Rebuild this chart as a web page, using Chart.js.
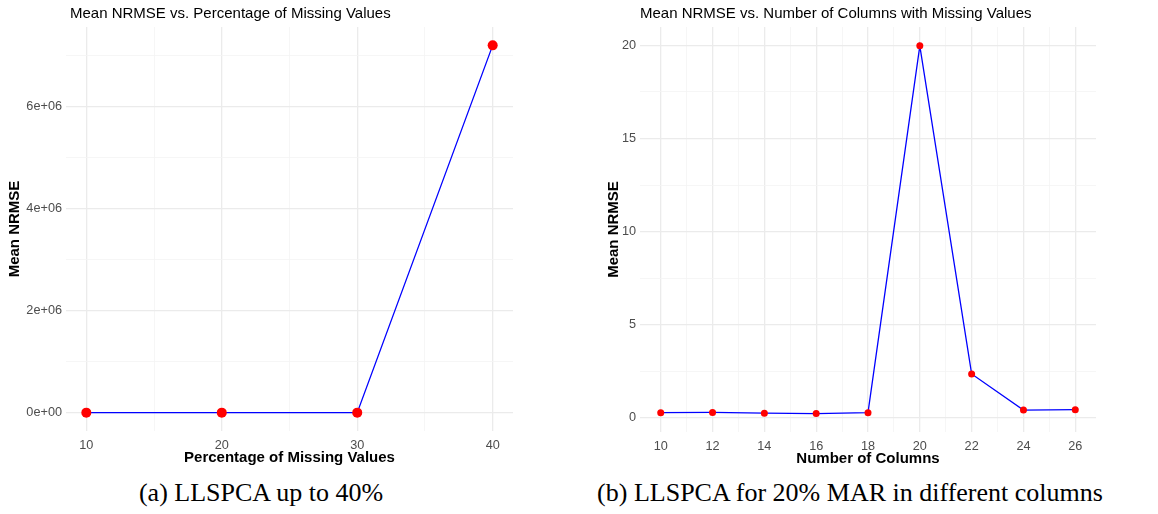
<!DOCTYPE html>
<html>
<head>
<meta charset="utf-8">
<script src="https://cdn.jsdelivr.net/npm/chart.js@4.4.0/dist/chart.umd.min.js"></script>
<style>
  body { margin: 0; background: #fff; width: 1158px; height: 514px; position: relative; overflow: hidden; }
  canvas { position: absolute; top: 0; }
  #pctChart { left: 0; }
  #colChart { left: 580px; }
  .cap { position: absolute; top: 478px; font-family: "Liberation Serif", serif; font-size: 26px; color: #000; white-space: nowrap; transform: translateX(-50%); }
</style>
</head>
<body>
<canvas id="pctChart" width="540" height="470"></canvas>
<canvas id="colChart" width="578" height="471"></canvas>
<div class="cap" style="left:261px">(a) LLSPCA up to 40%</div>
<div class="cap" style="left:850px">(b) LLSPCA for 20% MAR in different columns</div>
<script>
// (a) mean NRMSE by percentage of missing values
const pctMissing = [10, 20, 30, 40];
const nrmsePct = [0.3, 0.3, 0.3, 7200000];
const pctXTicks = [10, 15, 20, 25, 30, 35, 40];
const pctYTicks = [0, 1e6, 2e6, 3e6, 4e6, 5e6, 6e6, 7e6];

// (b) mean NRMSE by number of columns with missing values
const numColumns = [10, 12, 14, 16, 18, 20, 22, 24, 26];
const nrmseCols = [0.27, 0.28, 0.24, 0.22, 0.27, 19.98, 2.35, 0.41, 0.43];
const colXTicks = [10, 11, 12, 13, 14, 15, 16, 17, 18, 19, 20, 21, 22, 23, 24, 25, 26];
const colYTicks = [0, 2.5, 5, 7.5, 10, 12.5, 15, 17.5, 20];

const SANS = '"Liberation Sans", Arial, sans-serif';

// ggplot-style scientific labels: 6e+06
function sci(v) {
  if (v === 0) return '0e+00';
  const e = Math.floor(Math.log10(Math.abs(v)));
  const m = Math.round(v / Math.pow(10, e));
  return m + 'e' + (e < 0 ? '-' : '+') + String(Math.abs(e)).padStart(2, '0');
}

const plotTitle = {
  id: 'plotTitle',
  afterDraw(chart, args, opts) {
    const c = chart.ctx;
    c.save();
    c.font = '15px ' + SANS;
    c.fillStyle = '#000';
    c.textBaseline = 'middle';
    c.fillText(opts.text, chart.chartArea.left + opts.dx, 14);
    c.restore();
  }
};

function makeChart(id, cfg) {
  const grid = major => ({
    drawTicks: false,
    color: ctx => major(ctx.tick.value) ? '#ebebeb' : '#f4f4f4',
    lineWidth: ctx => major(ctx.tick.value) ? 1.3 : 0.8
  });
  return new Chart(document.getElementById(id), {
    type: 'line',
    data: {
      datasets: [{
        data: cfg.x.map((x, i) => ({ x: x, y: cfg.y[i] })),
        borderColor: '#0000ff',
        borderWidth: 1.3,
        pointBackgroundColor: '#ff0000',
        pointBorderWidth: 0,
        pointRadius: cfg.radius,
        tension: 0
      }]
    },
    options: {
      responsive: false,
      animation: false,
      layout: { padding: { top: 27, right: cfg.padRight, left: 0, bottom: 0 } },
      plugins: {
        legend: { display: false },
        tooltip: { enabled: false },
        plotTitle: { text: cfg.title, dx: cfg.titleDx }
      },
      scales: {
        x: {
          type: 'linear',
          min: cfg.xMin, max: cfg.xMax,
          border: { display: false },
          grid: grid(cfg.xMajor),
          afterBuildTicks: s => { s.ticks = cfg.xTicks.map(v => ({ value: v })); },
          afterFit: s => { s.height = 39; },
          ticks: {
            autoSkip: false, maxRotation: 0, padding: 7,
            color: '#4d4d4d', font: { family: SANS, size: 12.7 },
            callback: v => cfg.xMajor(v) ? String(v) : ''
          },
          title: {
            display: true, text: cfg.xTitle, color: '#000',
            padding: { top: 0, bottom: 3 },
            font: { family: SANS, size: 15, weight: 'bold' }
          }
        },
        y: {
          type: 'linear',
          min: cfg.yMin, max: cfg.yMax,
          border: { display: false },
          grid: grid(cfg.yMajor),
          afterBuildTicks: s => { s.ticks = cfg.yTicks.map(v => ({ value: v })); },
          afterFit: s => { s.width = cfg.yWidth; },
          ticks: {
            autoSkip: false, padding: 4,
            color: '#4d4d4d', font: { family: SANS, size: 12.7 },
            callback: v => cfg.yMajor(v) ? cfg.yFmt(v) : ''
          },
          title: {
            display: true, text: 'Mean NRMSE', color: '#000',
            padding: { top: cfg.yTitlePad, bottom: 0 },
            font: { family: SANS, size: 15, weight: 'bold' }
          }
        }
      }
    },
    plugins: [plotTitle]
  });
}

makeChart('pctChart', {
  x: pctMissing, y: nrmsePct, radius: 5,
  title: 'Mean NRMSE vs. Percentage of Missing Values', titleDx: 4,
  xTitle: 'Percentage of Missing Values',
  xMin: 8.5, xMax: 41.5, xTicks: pctXTicks, xMajor: v => v % 10 === 0,
  yMin: -360000, yMax: 7560000, yTicks: pctYTicks, yMajor: v => v % 2e6 === 0,
  yFmt: sci, yWidth: 66, yTitlePad: 6, padRight: 27
});

makeChart('colChart', {
  x: numColumns, y: nrmseCols, radius: 3.5,
  title: 'Mean NRMSE vs. Number of Columns with Missing Values', titleDx: 0,
  xTitle: 'Number of Columns',
  xMin: 9.2, xMax: 26.8, xTicks: colXTicks, xMajor: v => v % 2 === 0,
  yMin: -0.77, yMax: 20.99, yTicks: colYTicks, yMajor: v => v % 5 === 0,
  yFmt: v => String(v), yWidth: 60, yTitlePad: 25, padRight: 62
});
</script>
</body>
</html>
